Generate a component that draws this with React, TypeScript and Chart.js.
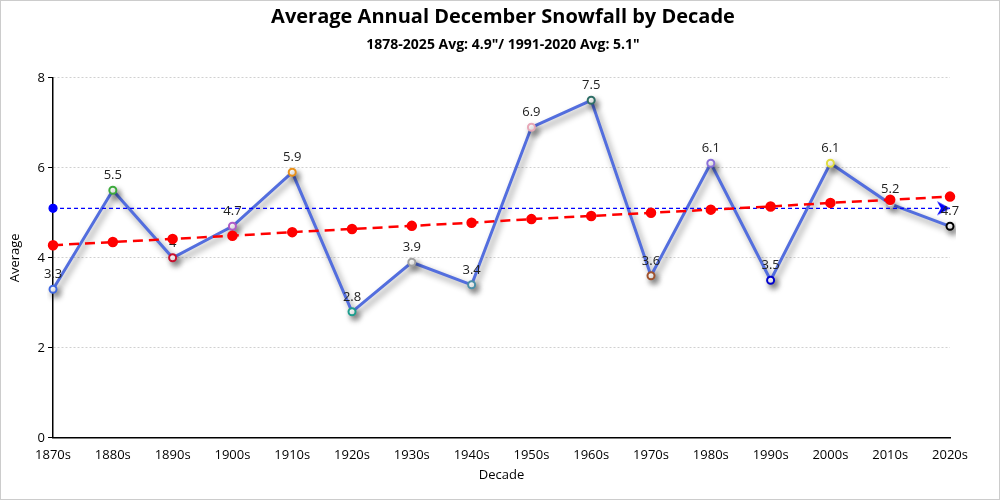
import React, { useEffect, useRef } from "react";
import { Chart, registerables } from "chart.js";

Chart.register(...registerables);

const decades = ["1870s", "1880s", "1890s", "1900s", "1910s", "1920s", "1930s", "1940s", "1950s", "1960s", "1970s", "1980s", "1990s", "2000s", "2010s", "2020s"];
const snowfall = [3.3, 5.5, 4, 4.7, 5.9, 2.8, 3.9, 3.4, 6.9, 7.5, 3.6, 6.1, 3.5, 6.1, 5.2, 4.7];
const trend = [4.28, 4.35, 4.42, 4.49, 4.57, 4.64, 4.71, 4.78, 4.86, 4.93, 5.0, 5.07, 5.14, 5.22, 5.29, 5.36];
const normal: (number | null)[] = [5.1, null, null, null, null, null, null, null, null, null, null, null, null, null, null, 5.1];
const pointColors = ["#4169E1", "#3DAA3D", "#C8102E", "#B05CC8", "#E8901A", "#1E9E8E", "#A0A0A0", "#4A8FA8", "#E8A8B8", "#2E6E66", "#A0522D", "#8A6FD8", "#0000CD", "#E0DC40", "#B8B8B8", "#000000"];
const titleText = "Average Annual December Snowfall by Decade";
const subtitleText = "1878-2025 Avg: 4.9\"/ 1991-2020 Avg: 5.1\"";

const FONT = "'Open Sans', 'Noto Sans', sans-serif";

function makeArrow(): HTMLCanvasElement {
  const c = document.createElement("canvas");
  c.width = 30;
  c.height = 16;
  const ctx = c.getContext("2d")!;
  ctx.fillStyle = "#0000FF";
  ctx.beginPath();
  ctx.moveTo(15, 8);
  ctx.lineTo(2, 1);
  ctx.lineTo(6, 8);
  ctx.lineTo(2, 15);
  ctx.closePath();
  ctx.fill();
  return c;
}

export default function App() {
  const ref = useRef<HTMLCanvasElement | null>(null);
  useEffect(() => {
    if (!ref.current) return;
    const arrow = makeArrow();
    const shadowPlugin = {
      id: "shadowLabels",
      beforeDatasetDraw(chart: any, args: any) {
        if (args.index === 0) {
          const ctx = chart.ctx;
          ctx.save();
          ctx.shadowColor = "rgba(0,0,0,0.45)";
          ctx.shadowBlur = 6;
          ctx.shadowOffsetX = 3;
          ctx.shadowOffsetY = 4;
        }
      },
      afterDatasetDraw(chart: any, args: any) {
        const ctx = chart.ctx;
        if (args.index === 0) {
          ctx.restore();
        }
        if (args.index === 1) {
          const meta = chart.getDatasetMeta(0);
          ctx.save();
          ctx.font = `13px ${FONT}`;
          ctx.fillStyle = "#222";
          ctx.textAlign = "center";
          ctx.textBaseline = "middle";
          meta.data.forEach((pt: any, i: number) => {
            ctx.fillText(String(snowfall[i]), pt.x, pt.y - 15);
          });
          ctx.restore();
        }
      },
    };
    const pointStyles = normal.map((v, i) => (i === normal.length - 1 ? arrow : "circle"));
    const chart = new Chart(ref.current, {
      type: "line",
      data: {
        labels: decades,
        datasets: [
          {
            label: "Average",
            data: snowfall,
            borderColor: "#536EDE",
            borderWidth: 3,
            pointBackgroundColor: "#ffffff",
            pointBorderColor: pointColors,
            pointBorderWidth: 2,
            pointRadius: 3.5,
            tension: 0,
            order: 2,
          },
          {
            label: "1991-2020",
            data: normal,
            borderColor: "#0000FF",
            borderWidth: 1.2,
            borderDash: [4, 3],
            pointBackgroundColor: "#0000FF",
            pointBorderColor: "#0000FF",
            pointRadius: 4,
            pointStyle: pointStyles as any,
            spanGaps: true,
            order: 1,
          },
          {
            label: "Trend",
            data: trend,
            borderColor: "#FF0000",
            borderWidth: 2.5,
            borderDash: [10, 6],
            pointBackgroundColor: "#FF0000",
            pointBorderColor: "#FF0000",
            pointRadius: 4,
            order: 0,
          },
        ],
      },
      options: {
        animation: false,
        responsive: true,
        maintainAspectRatio: false,
        layout: { padding: { top: 0, right: 0, bottom: 12, left: 6 } },
        plugins: {
          legend: { display: false },
          tooltip: { enabled: false },
          title: {
            display: true,
            text: titleText,
            color: "#000",
            font: { family: FONT, size: 20, weight: "bold" },
            padding: { top: 4, bottom: 8 },
          },
          subtitle: {
            display: true,
            text: subtitleText,
            color: "#000",
            font: { family: FONT, size: 14, weight: "bold" },
            padding: { top: 0, bottom: 24 },
          },
        },
        scales: {
          x: {
            offset: false,
            grid: { display: false },
            border: { display: true, color: "#000", width: 1.5 },
            ticks: { color: "#000", font: { family: FONT, size: 13 }, padding: 2, maxRotation: 0, autoSkip: false },
            title: { display: true, text: "Decade", color: "#000", font: { family: FONT, size: 13 }, padding: { top: 2, bottom: 4 } },
          },
          y: {
            min: 0,
            max: 8,
            ticks: { stepSize: 2, color: "#000", font: { family: FONT, size: 13 }, padding: 3 },
            grid: {
              color: "#d0d0d0",
              tickColor: "#000",
              tickLength: 5,
              tickBorderDash: [],
              drawTicks: true,
            } as any,
            border: { display: true, color: "#000", width: 1.5, dash: [2, 2] } as any,
            title: { display: true, text: "Average", color: "#000", font: { family: FONT, size: 13 }, padding: { top: 0, bottom: 12 } },
          },
          yRight: {
            position: "right",
            display: true,
            min: 0,
            max: 8,
            grid: { display: false, drawTicks: false },
            border: { display: false },
            ticks: { display: false },
            afterFit: (s: any) => {
              s.width = 49;
            },
          } as any,
        },
      },
      plugins: [shadowPlugin],
    });
    return () => chart.destroy();
  }, []);
  return (
    <div style={{ position: "fixed", left: 0, top: 0, width: 1000, height: 500, boxSizing: "border-box", border: "1px solid #cccccc", background: "#fff" }}>
      <canvas ref={ref} />
    </div>
  );
}
